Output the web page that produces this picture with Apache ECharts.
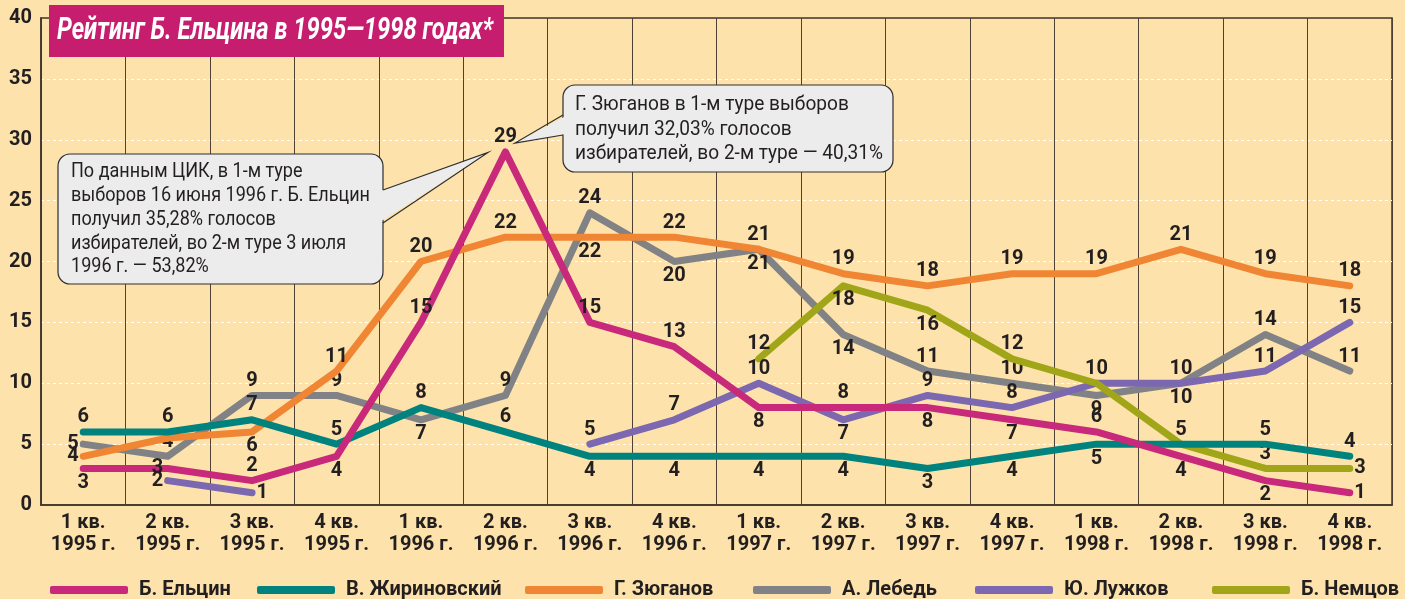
<!DOCTYPE html>
<html>
<head>
<meta charset="utf-8">
<script src="https://cdn.jsdelivr.net/npm/echarts@6/dist/echarts.min.js"></script>
<style>
  html, body { margin: 0; padding: 0; background: #FDE3AB; }
  #chart { width: 1405px; height: 599px; }
</style>
</head>
<body>
<div id="chart"></div>
<script>
// кварталы 1995-1998
const quarters = [
  '1 кв.\n1995 г.', '2 кв.\n1995 г.', '3 кв.\n1995 г.', '4 кв.\n1995 г.',
  '1 кв.\n1996 г.', '2 кв.\n1996 г.', '3 кв.\n1996 г.', '4 кв.\n1996 г.',
  '1 кв.\n1997 г.', '2 кв.\n1997 г.', '3 кв.\n1997 г.', '4 кв.\n1997 г.',
  '1 кв.\n1998 г.', '2 кв.\n1998 г.', '3 кв.\n1998 г.', '4 кв.\n1998 г.'
];
const yTicks = [0, 5, 10, 15, 20, 25, 30, 35, 40];

// рейтинги, %
const yeltsin     = [3, 3, 2, 4, 15, 29, 15, 13, 8, 8, 8, 7, 6, 4, 2, 1];
const zhirinovsky = [6, 6, 7, 5, 8, 6, 4, 4, 4, 4, 3, 4, 5, 5, 5, 4];
const zyuganov    = [4, 5.5, 6, 11, 20, 22, 22, 22, 21, 19, 18, 19, 19, 21, 19, 18];
const lebed       = [5, 4, 9, 9, 7, 9, 24, 20, 21, 14, 11, 10, 9, 10, 14, 11];
const luzhkov     = ['-', 2, 1, '-', '-', '-', 5, 7, 10, 7, 9, 8, 10, 10, 11, 15];
const nemtsov     = ['-', '-', '-', '-', '-', '-', '-', '-', 12, 18, 16, 12, 10, 5, 3, 3];

// где стоит подпись у точки: t - сверху, b - снизу, l - слева, r - справа, '' - нет
const yeltsinPos     = ['b','l','t','b','t','t','t','t','b','t','b','b','t','b','b','r'];
const zhirinovskyPos = ['t','t','t','t','t','t','b','b','b','b','b','b','b','t','t','t'];
const zyuganovPos    = ['l','', 'b','t','t','t','b','t','t','t','t','t','t','t','t','t'];
const lebedPos       = ['l','t','t','t','b','t','t','b','b','b','t','t','b','b','t','t'];
const luzhkovPos     = ['', 'l','r','', '', '', 't','t','t','b','t','t','t','t','t','t'];
const nemtsovPos     = ['', '', '', '', '', '', '', '', 't','b','b','t','', '', 't','r'];

const names = ['Б. Ельцин', 'В. Жириновский', 'Г. Зюганов', 'А. Лебедь', 'Ю. Лужков', 'Б. Немцов'];
const colors = ['#C8297A', '#00827F', '#F08533', '#808286', '#7C68B0', '#A0A617'];
const legendLeft = [45, 252, 520, 748, 970, 1207];

const titleText = 'Рейтинг Б. Ельцина в 1995—1998 годах*';
const noteYeltsin = ['По данным ЦИК, в 1-м туре', 'выборов 16 июня 1996 г. Б. Ельцин',
  'получил 35,28% голосов', 'избирателей, во 2-м туре 3 июля', '1996 г. — 53,82%'];
const noteZyuganov = ['Г. Зюганов в 1-м туре выборов', 'получил 32,03% голосов',
  'избирателей, во 2-м туре — 40,31%'];

const FONT = "Roboto, 'Liberation Sans', sans-serif";
const INK = '#231F20';
const posMap = { t: 'top', b: 'bottom', l: 'left', r: 'right' };

// узкий шрифт в оригинале - текст в выносках поджимаем по ширине
const measureCtx = document.createElement('canvas').getContext('2d');
function fitScale(lines, font, target) {
  measureCtx.font = font;
  const w = Math.max(...lines.map(l => measureCtx.measureText(l).width));
  return target / w;
}

function makeData(values, pos) {
  return values.map((v, i) => {
    if (v === '-' || !pos[i]) return { value: v, label: { show: false } };
    return { value: v, label: { show: true, position: posMap[pos[i]] } };
  });
}

function lineSeries(idx, values, pos, z) {
  const color = colors[idx];
  return {
    name: names[idx],
    type: 'line',
    color: color,
    z: z,
    data: makeData(values, pos),
    symbol: 'circle',
    symbolSize: 1,
    connectNulls: false,
    lineStyle: { width: 7, color: color, cap: 'round', join: 'round' },
    itemStyle: { color: color },
    label: {
      show: true,
      distance: 4,
      fontFamily: FONT,
      fontWeight: 'bold',
      fontSize: 20,
      color: INK,
      formatter: p => String(Math.round(p.value))
    },
    emphasis: { disabled: true }
  };
}

const titleFont = 'italic bold 31px ' + FONT;
const noteFont = '21px ' + FONT;
const titleScale = fitScale([titleText], titleFont, 436);
const note1Scale = fitScale(noteYeltsin, noteFont, 299);
const note2Scale = fitScale(noteZyuganov, noteFont, 308);

const chart = echarts.init(document.getElementById('chart'), null, { renderer: 'canvas' });

const option = {
  backgroundColor: '#FDE3AB',
  animation: false,
  grid: {
    left: 41, right: 13, top: 18, bottom: 94,
    show: true,
    borderColor: '#3E342B',
    borderWidth: 1.5,
    backgroundColor: 'transparent'
  },
  legend: names.map((n, i) => ({
    left: legendLeft[i],
    top: 575,
    icon: 'roundRect',
    itemWidth: 78,
    itemHeight: 8,
    selectedMode: false,
    data: [n],
    textStyle: {
      fontFamily: FONT,
      fontWeight: 'bold',
      fontSize: 20,
      color: INK,
      padding: [0, 0, 0, 6]
    }
  })),
  xAxis: {
    type: 'category',
    data: quarters,
    boundaryGap: true,
    axisLine: { lineStyle: { color: '#3E342B', width: 1.5 } },
    axisTick: { show: false },
    splitLine: { show: true, interval: 0, lineStyle: { color: '#4E4236', width: 1 } },
    axisLabel: {
      interval: 0,
      margin: 7,
      fontFamily: FONT,
      fontWeight: 'bold',
      fontSize: 20,
      lineHeight: 22,
      color: INK
    }
  },
  yAxis: {
    type: 'value',
    min: yTicks[0],
    max: yTicks[yTicks.length - 1],
    interval: 5,
    axisLine: { show: true, lineStyle: { color: '#3E342B', width: 1.5 } },
    axisTick: { show: false },
    axisLabel: {
      margin: 9,
      fontFamily: FONT,
      fontWeight: 'bold',
      fontSize: 20,
      color: INK
    },
    splitLine: {
      show: true,
      showMinLine: false,
      showMaxLine: false,
      lineStyle: { color: '#FFFFFF', width: 1, type: [3, 3] }
    }
  },
  series: [
    lineSeries(0, yeltsin, yeltsinPos, 8),
    lineSeries(1, zhirinovsky, zhirinovskyPos, 6),
    lineSeries(2, zyuganov, zyuganovPos, 4),
    lineSeries(3, lebed, lebedPos, 3),
    lineSeries(4, luzhkov, luzhkovPos, 5),
    lineSeries(5, nemtsov, nemtsovPos, 5)
  ],
  graphic: [
    // заголовок
    {
      type: 'rect', z: 100,
      shape: { x: 49, y: 5, width: 455, height: 52 },
      style: { fill: '#C71D6E' }
    },
    {
      type: 'text', z: 101, x: 57, y: 31, scaleX: titleScale,
      style: {
        text: titleText,
        fill: '#FFFFFF',
        font: titleFont,
        verticalAlign: 'middle'
      }
    },
    // выноска про Ельцина
    {
      type: 'rect', z: 100,
      shape: { x: 58, y: 154, width: 325, height: 130, r: 12 },
      style: { fill: '#ECECEC', stroke: '#2E2E2E', lineWidth: 1.2 }
    },
    {
      type: 'polygon', z: 101,
      shape: { points: [[380, 191], [488, 152.5], [380, 222]] },
      style: { fill: '#ECECEC' }
    },
    {
      type: 'polyline', z: 101,
      shape: { points: [[383, 190], [488, 152.5], [383, 223]] },
      style: { stroke: '#2E2E2E', lineWidth: 1.2, fill: null }
    },
    {
      type: 'text', z: 102, x: 71, y: 160, scaleX: note1Scale,
      style: {
        text: noteYeltsin.join('\n'),
        fill: INK,
        font: noteFont,
        lineHeight: 23.8
      }
    },
    // выноска про Зюганова
    {
      type: 'rect', z: 100,
      shape: { x: 563, y: 85, width: 330, height: 87, r: 12 },
      style: { fill: '#ECECEC', stroke: '#2E2E2E', lineWidth: 1.2 }
    },
    {
      type: 'polygon', z: 101,
      shape: { points: [[566, 116], [515, 143], [566, 134]] },
      style: { fill: '#ECECEC' }
    },
    {
      type: 'polyline', z: 101,
      shape: { points: [[563, 115], [515, 143], [563, 135]] },
      style: { stroke: '#2E2E2E', lineWidth: 1.2, fill: null }
    },
    {
      type: 'text', z: 102, x: 575, y: 93, scaleX: note2Scale,
      style: {
        text: noteZyuganov.join('\n'),
        fill: INK,
        font: noteFont,
        lineHeight: 24.2
      }
    }
  ]
};

chart.setOption(option);
</script>
</body>
</html>
